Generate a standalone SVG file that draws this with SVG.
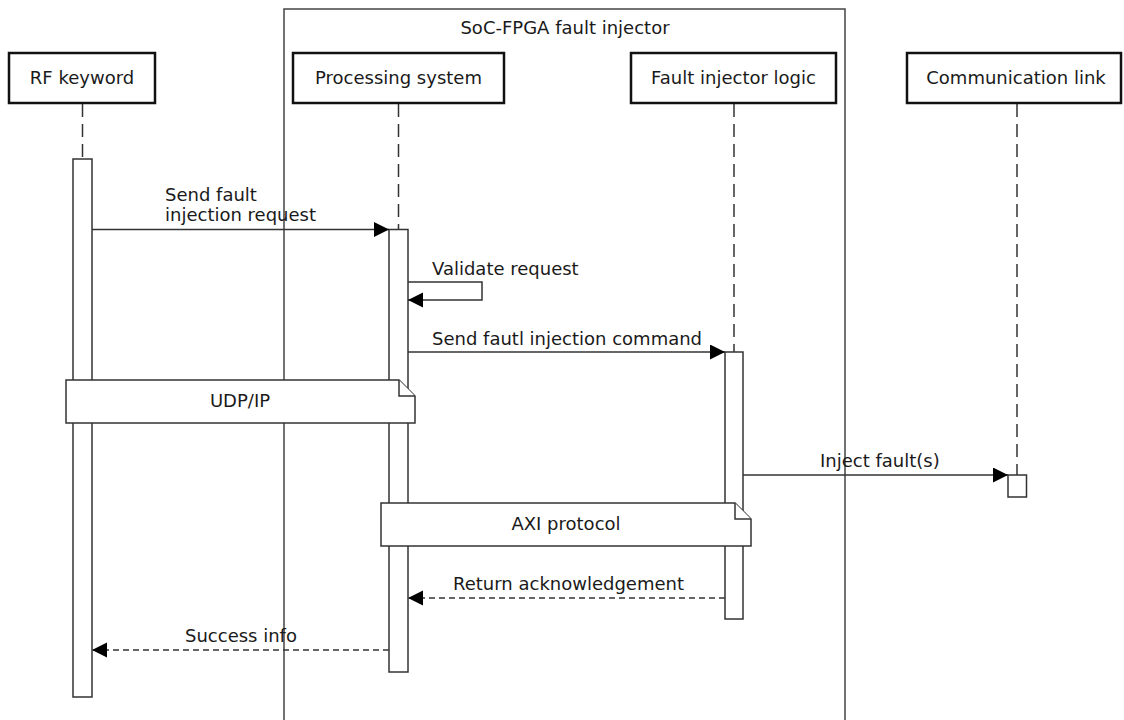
<svg xmlns="http://www.w3.org/2000/svg" width="1124" height="720" viewBox="0 0 1124 720">
<style>
text{font-family:"DejaVu Sans","Liberation Sans",sans-serif;font-size:18px;fill:#1a1a1a}
.mid{text-anchor:middle}
.part{fill:#fff;stroke:#111;stroke-width:2.5}
.life{stroke:#333;stroke-width:1.5;stroke-dasharray:13,7;fill:none}
.bar{fill:#fff;stroke:#333;stroke-width:1.5}
.msg{stroke:#333;stroke-width:1.5;fill:none}
.ret{stroke:#333;stroke-width:1.5;fill:none;stroke-dasharray:6,4}
.note{fill:#fff;stroke:#333;stroke-width:1.5}
</style>
<defs>
<marker id="ah" markerUnits="userSpaceOnUse" markerWidth="16" markerHeight="16" refX="15" refY="7.5" orient="auto">
<path d="M0,0 L15,7.5 L0,15 Z" fill="#000"/>
</marker>
</defs>
<g id="frame">
<rect x="284" y="9" width="561" height="730" fill="none" stroke="#444" stroke-width="1.5"/>
<text class="mid" x="565" y="34">SoC-FPGA fault injector</text>
</g>
<g id="lifelines">
<line class="life" x1="82.5" y1="104" x2="82.5" y2="159"/>
<line class="life" x1="398.5" y1="104" x2="398.5" y2="229"/>
<line class="life" x1="734" y1="104" x2="734" y2="352"/>
<line class="life" x1="1017" y1="104" x2="1017" y2="475"/>
</g>
<g id="rf-keyword">
<rect class="part" x="9" y="53" width="146" height="50"/>
<text class="mid" x="82" y="84">RF keyword</text>
<rect class="bar" x="73" y="159" width="19" height="538"/>
</g>
<g id="processing-system">
<rect class="part" x="293" y="53" width="211" height="50"/>
<text class="mid" x="398.5" y="84">Processing system</text>
<rect class="bar" x="389" y="229.5" width="19" height="442.5"/>
</g>
<g id="fault-injector-logic">
<rect class="part" x="631" y="53" width="205" height="50"/>
<text class="mid" x="733.5" y="84">Fault injector logic</text>
<rect class="bar" x="725" y="352" width="18" height="267"/>
</g>
<g id="communication-link">
<rect class="part" x="907" y="53" width="214" height="50"/>
<text class="mid" x="1016" y="84">Communication link</text>
<rect class="bar" x="1008" y="475" width="18.5" height="22"/>
</g>
<g id="connectors">
<line class="msg" x1="92" y1="229.5" x2="389" y2="229.5" marker-end="url(#ah)"/>
<text x="165" y="201">Send fault</text>
<text x="165" y="221">injection request</text>
<path class="msg" d="M408,282 H482 V300 H408" marker-end="url(#ah)"/>
<text x="432" y="275">Validate request</text>
<line class="msg" x1="408" y1="352" x2="725" y2="352" marker-end="url(#ah)"/>
<text x="432" y="345">Send fautl injection command</text>
<line class="msg" x1="743" y1="475" x2="1008" y2="475" marker-end="url(#ah)"/>
<text x="820" y="467">Inject fault(s)</text>
<line class="ret" x1="725" y1="598" x2="408" y2="598" marker-end="url(#ah)"/>
<text x="453" y="590">Return acknowledgement</text>
<line class="ret" x1="389" y1="650" x2="92" y2="650" marker-end="url(#ah)"/>
<text x="185" y="642">Success info</text>
</g>
<g id="note-udp">
<path class="note" d="M66,380 H399 L415,396 V423 H66 Z"/>
<path class="note" d="M399,380 V396 H415"/>
<text class="mid" x="240" y="407">UDP/IP</text>
</g>
<g id="note-axi">
<path class="note" d="M381,503 H735 L751,519 V546 H381 Z"/>
<path class="note" d="M735,503 V519 H751"/>
<text class="mid" x="566" y="530">AXI protocol</text>
</g>
</svg>
